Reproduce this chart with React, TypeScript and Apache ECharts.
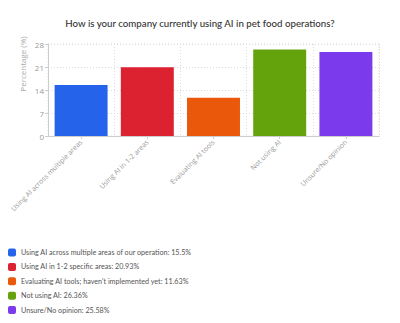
import React, { useEffect, useRef } from "react";
import * as echarts from "echarts";

const titleText = "How is your company currently using AI in pet food operations?";
const categories = [
  "Using AI across multiple areas",
  "Using AI in 1-2 areas",
  "Evaluating AI tools",
  "Not using AI",
  "Unsure/No opinion",
];
const legendLabels = [
  "Using AI across multiple areas of our operation",
  "Using AI in 1-2 specific areas",
  "Evaluating AI tools; haven't implemented yet",
  "Not using AI",
  "Unsure/No opinion",
];
const values = [15.5, 20.93, 11.63, 26.36, 25.58];
const colors = ["#2563eb", "#dc2130", "#ea580c", "#65a30d", "#7c3aed"];
const yTicks = { min: 0, max: 28, interval: 7 };
const yName = "Percentage (%)";

export default function App() {
  const ref = useRef<HTMLDivElement>(null);
  useEffect(() => {
    if (!ref.current) return;
    const chart = echarts.init(ref.current, null, { renderer: "svg" });
    const font = "Open Sans, Noto Sans, sans-serif";
    const lfont = "Lato, Open Sans, sans-serif";
    const legendGraphics: any[] = [];
    legendLabels.forEach((l, i) => {
      const y = 252.5 + i * 14.4;
      legendGraphics.push({
        type: "rect",
        shape: { x: 0, y: 0, width: 8, height: 8, r: 2 },
        position: [8, y - 4],
        style: { fill: colors[i] },
      });
      legendGraphics.push({
        type: "text",
        position: [21, y],
        style: {
          text: `${l}: ${values[i]}%`,
          fill: "#555",
          font: `7.2px ${lfont}`,
          verticalAlign: "middle",
          align: "left",
        },
      });
    });
    chart.setOption({
      animation: false,
      title: {
        text: titleText,
        left: "center",
        top: 13,
        textStyle: { fontSize: 9.7, fontWeight: 500, color: "#333", fontFamily: lfont },
      },
      grid: { left: 48, right: 21, top: 44, bottom: 187, containLabel: false },
      xAxis: {
        type: "category",
        data: categories,
        axisLine: { lineStyle: { color: "#ccc" } },
        axisTick: { show: true, alignWithLabel: true, length: 3, lineStyle: { color: "#ccc" } },
        axisLabel: { rotate: 45, fontSize: 7, color: "#999", margin: 5, fontFamily: font, interval: 0 },
        splitLine: { show: true, lineStyle: { type: [1, 2], color: "#ddd" } },
      },
      yAxis: {
        type: "value",
        min: yTicks.min,
        max: yTicks.max,
        interval: yTicks.interval,
        axisLine: { show: true, lineStyle: { color: "#ccc" } },
        axisTick: { show: true, length: 3, lineStyle: { color: "#ccc" } },
        axisLabel: { fontSize: 8, color: "#999", margin: 4, fontFamily: font },
        splitLine: { show: true, lineStyle: { type: [1, 2], color: "#ddd" } },
      },
      graphic: [
        {
          type: "text",
          position: [22, 64],
          rotation: Math.PI / 2,
          style: {
            text: yName,
            fill: "#aaa",
            font: `8px ${font}`,
            align: "center",
            verticalAlign: "middle",
          },
        },
        {
          type: "rect",
          shape: { x: 0, y: 0, width: 331, height: 92 },
          position: [48, 44],
          silent: true,
          style: { fill: "none", stroke: "#ddd", lineWidth: 1, lineDash: [1, 2] },
        },
        { type: "group", children: legendGraphics },
      ],
      series: [
        {
          type: "bar",
          data: values.map((v, i) => ({ value: v, itemStyle: { color: colors[i] } })),
          barCategoryGap: "20%",
        },
      ],
    });
    return () => chart.dispose();
  }, []);
  return (
    <div
      ref={ref}
      style={{ position: "absolute", left: 0, top: 0, width: 400, height: 323 }}
    />
  );
}
